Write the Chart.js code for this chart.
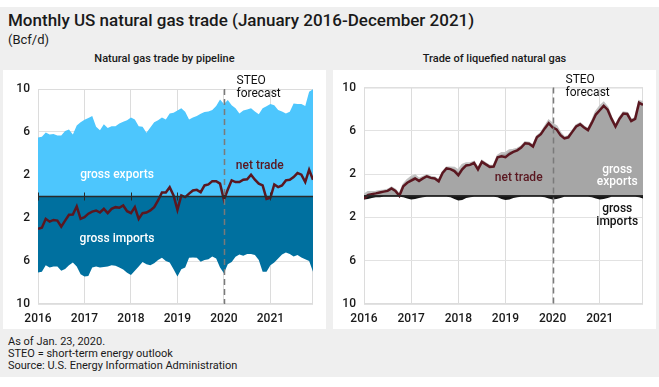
<!DOCTYPE html>
<html>
<head>
<meta charset="utf-8">
<script src="https://cdn.jsdelivr.net/npm/chart.js@4.4.1/dist/chart.umd.min.js"></script>
<style>
body{margin:0;width:659px;height:387px;background:#fff;font-family:Roboto,"Noto Sans",sans-serif;position:relative;overflow:hidden;color:#1a1a1a}
#bg{position:absolute;left:0;top:7px;width:659px;height:370px;background:#efefef}
#title{position:absolute;left:8px;top:10px;font-size:17px;font-weight:500;white-space:nowrap}
#unit{position:absolute;left:8px;top:32px;font-size:13px}
.ptitle{position:absolute;top:52px;width:323px;text-align:center;font-size:11px;font-weight:500}
.panel{position:absolute;top:70px;width:323px;height:259px;background:#fff}
#notes{position:absolute;left:8px;top:336px;font-size:11px;line-height:12px}
</style>
</head>
<body>
<div id="bg"></div>
<div id="title">Monthly US natural gas trade (January 2016-December 2021)</div>
<div id="unit">(Bcf/d)</div>
<div class="ptitle" style="left:3px">Natural gas trade by pipeline</div>
<div class="ptitle" style="left:333px">Trade of liquefied natural gas</div>
<div class="panel" style="left:3px"><canvas id="pipeChart" width="323" height="259"></canvas></div>
<div class="panel" style="left:333px"><canvas id="lngChart" width="323" height="259"></canvas></div>
<div id="notes">As of Jan. 23, 2020.<br>STEO = short-term energy outlook<br>Source: U.S. Energy Information Administration</div>
<script>
// months Jan 2016 .. Dec 2021 as decimal years
const months = [];
for (let yr = 2016; yr <= 2021; yr++) {
    for (let m = 0; m < 12; m++) months.push(yr + m / 12);
}
const yearTicks = [2016, 2017, 2018, 2019, 2020, 2021];
const valueTicks = [-10, -6, -2, 2, 6, 10];
const forecastStart = 2020;

// pipeline, Bcf/d
const pipeExports = [
    5.5, 5.55, 5.95, 5.76, 5.82, 5.67, 5.67, 6.1, 6.23, 5.76, 6.6, 6.9,
    7.15, 7.3, 7.48, 6.48, 6.17, 6.73, 6.38, 6.54, 6.54, 6.8, 6.95, 7.1,
    7.35, 7.17, 6.54, 6.48, 5.92, 6.42, 6.9, 7.1, 7.35, 7.17, 7.73, 7.79,
    8.0, 8.2, 7.88, 7.17, 7.35, 7.48, 7.7, 7.85, 7.9, 8.04, 8.41, 9.03,
    8.6, 8.97, 8.5, 8.2, 7.73, 8.0, 8.1, 8.2, 7.9, 7.66, 8.2, 8.4,
    8.6, 8.5, 8.04, 7.9, 7.73, 7.88, 8.66, 8.6, 8.6, 8.41, 9.75, 9.97
];
const pipeImports = [
    7.07, 7.0, 6.4, 6.6, 6.5, 6.5, 6.9, 6.75, 6.4, 6.15, 6.5, 7.23,
    7.45, 7.4, 6.6, 6.5, 6.6, 6.55, 6.5, 6.4, 6.45, 6.6, 6.8, 7.1,
    7.3, 6.9, 6.5, 6.1, 6.3, 6.4, 6.2, 5.9, 5.7, 6.0, 6.15, 6.76,
    7.45, 6.76, 6.6, 5.7, 5.68, 5.7, 6.07, 5.9, 5.83, 5.58, 5.77, 6.6,
    7.13, 6.3, 6.1, 5.6, 5.4, 5.5, 5.36, 5.36, 5.45, 5.9, 7.0, 7.0,
    6.4, 6.14, 5.77, 5.4, 5.2, 5.36, 5.58, 5.45, 5.67, 5.83, 6.0, 7.0
];
const pipeNet = [
    -3.0, -2.9, -2.08, -2.34, -2.18, -2.24, -2.8, -2.24, -1.7, -1.68, -0.93, -2.08,
    -1.93, -1.6, -1.4, -1.3, -1.49, -1.15, -1.55, -1.15, -0.99, -1.05, -0.84, -1.37,
    -1.55, -0.99, -2.08, -1.55, -1.49, -1.3, -0.99, -0.37, 0.37, 0.37, 0.87, 0.1,
    -1.24, 0.1, -0.06, 0.27, 0.56, 0.62, 0.4, 1.03, 1.12, 1.43, 1.43, 1.2,
    -0.31, 0.65, 1.5, 1.34, 1.34, 1.56, 1.6, 2.03, 1.56, 1.2, 1.03, -0.22,
    -0.12, 1.12, 0.87, 1.03, 1.5, 1.56, 1.8, 2.18, 2.03, 1.34, 2.49, 1.56
];

// liquefied natural gas, Bcf/d
const lngExports = [
    0.1, 0.35, 0.35, 0.37, 0.45, 0.48, 0.55, 0.77, 0.55, 0.1, 1.03, 1.45,
    1.75, 1.89, 1.57, 1.75, 1.9, 1.75, 1.7, 1.44, 2.2, 2.62, 2.61, 2.58,
    2.35, 2.85, 3.0, 3.0, 3.14, 2.53, 3.23, 3.0, 2.77, 2.8, 3.7, 3.95,
    3.96, 4.2, 4.25, 4.35, 4.55, 4.95, 4.9, 4.65, 5.5, 5.79, 6.37, 6.95,
    6.65, 6.43, 5.8, 5.4, 5.5, 6.0, 6.5, 6.7, 6.4, 6.16, 6.9, 7.75,
    8.25, 8.6, 8.15, 7.2, 6.5, 7.2, 7.7, 7.65, 7.0, 7.2, 8.75, 8.65
];
const lngImports = [
    0.35, 0.3, 0.2, 0.15, 0.15, 0.1, 0.1, 0.1, 0.1, 0.1, 0.15, 0.25,
    0.35, 0.3, 0.2, 0.15, 0.1, 0.1, 0.1, 0.1, 0.1, 0.1, 0.15, 0.3,
    0.45, 0.4, 0.2, 0.15, 0.1, 0.1, 0.1, 0.1, 0.1, 0.1, 0.15, 0.3,
    0.4, 0.35, 0.2, 0.15, 0.1, 0.1, 0.1, 0.1, 0.1, 0.1, 0.15, 0.25,
    0.35, 0.3, 0.2, 0.1, 0.1, 0.1, 0.1, 0.1, 0.1, 0.1, 0.15, 0.25,
    0.35, 0.3, 0.2, 0.1, 0.1, 0.1, 0.1, 0.1, 0.1, 0.1, 0.15, 0.25
];
const lngNet = [
    -0.26, 0.05, 0.15, 0.22, 0.3, 0.38, 0.45, 0.67, 0.45, 0.0, 0.88, 1.2,
    1.4, 1.59, 1.37, 1.6, 1.8, 1.65, 1.6, 1.34, 2.1, 2.52, 2.46, 2.28,
    1.9, 2.45, 2.8, 2.85, 3.04, 2.43, 3.13, 2.9, 2.67, 2.7, 3.55, 3.65,
    3.56, 3.85, 4.05, 4.2, 4.45, 4.85, 4.8, 4.55, 5.4, 5.69, 6.22, 6.7,
    6.3, 6.13, 5.6, 5.3, 5.4, 5.9, 6.4, 6.6, 6.3, 6.06, 6.75, 7.5,
    7.9, 8.3, 7.95, 7.1, 6.4, 7.1, 7.6, 7.55, 6.9, 7.1, 8.6, 8.4
];

function points(values, sign){
    return values.map((v, i) => ({x: months[i], y: sign * v}));
}

// frame, zero line, forecast line and text labels
const annotate = {
    id: 'annotate',
    beforeDatasetsDraw(chart){
        const {ctx, chartArea: a} = chart;
        ctx.save();
        ctx.strokeStyle = '#dcdcdc';
        ctx.lineWidth = 1;
        ctx.strokeRect(a.left + 0.5, a.top + 0.5, a.right - a.left - 1, a.bottom - a.top - 1);
        ctx.restore();
    },
    afterDatasetsDraw(chart, args, opts){
        const {ctx, chartArea: a, scales: {x, y}} = chart;
        ctx.save();
        const y0 = y.getPixelForValue(0);
        ctx.strokeStyle = '#2a2a2a';
        ctx.lineWidth = 1.3;
        ctx.beginPath();
        ctx.moveTo(a.left, y0);
        ctx.lineTo(a.right, y0);
        ctx.stroke();
        if (opts.zeroTicks) {
            ctx.lineWidth = 1;
            for (const yr of yearTicks) {
                const px = Math.round(x.getPixelForValue(yr)) + 0.5;
                ctx.beginPath();
                ctx.moveTo(px, y0 - 4);
                ctx.lineTo(px, y0 + 4);
                ctx.stroke();
            }
        }
        // STEO forecast divider
        const fx = Math.round(x.getPixelForValue(forecastStart)) + 0.5;
        ctx.strokeStyle = '#7a7a7a';
        ctx.lineWidth = 1.5;
        ctx.setLineDash([6, 4]);
        ctx.beginPath();
        ctx.moveTo(fx, a.top);
        ctx.lineTo(fx, a.bottom);
        ctx.stroke();
        ctx.setLineDash([]);
        ctx.fillStyle = '#111';
        ctx.font = '12px Roboto';
        ctx.textAlign = 'left';
        ctx.textBaseline = 'alphabetic';
        ctx.fillText('STEO', fx + 12, a.top - 5);
        ctx.fillText('forecast', fx + 12, a.top + 8);
        for (const lab of opts.labels) {
            ctx.fillStyle = lab.color;
            ctx.font = '500 12px Roboto';
            ctx.textAlign = 'center';
            ctx.textBaseline = 'middle';
            ctx.fillText(lab.text, x.getPixelForValue(lab.x), y.getPixelForValue(lab.y));
        }
        ctx.restore();
    }
};

function makeChart(id, datasets, labels, topPad, yWidth, zeroTicks){
    const ctx = document.getElementById(id).getContext('2d');
    return new Chart(ctx, {
        type: 'line',
        data: {datasets: datasets},
        plugins: [annotate],
        options: {
            responsive: false,
            animation: false,
            devicePixelRatio: 1,
            layout: {padding: {top: topPad, right: 13, left: 0, bottom: 0}},
            elements: {point: {radius: 0}, line: {tension: 0}},
            plugins: {
                legend: {display: false},
                tooltip: {enabled: false},
                annotate: {labels: labels, zeroTicks: zeroTicks}
            },
            scales: {
                x: {
                    type: 'linear',
                    min: months[0],
                    max: months[months.length - 1],
                    afterBuildTicks: s => { s.ticks = yearTicks.map(v => ({value: v})); },
                    afterFit: s => { s.height = 25; },
                    grid: {color: '#dcdcdc', drawTicks: false},
                    border: {display: false},
                    ticks: {padding: 8, color: '#1a1a1a', font: {family: 'Roboto', size: 12, weight: '500'}, callback: v => String(v)}
                },
                y: {
                    min: -10,
                    max: 10,
                    afterBuildTicks: s => { s.ticks = valueTicks.map(v => ({value: v})); },
                    afterFit: s => { s.width = yWidth; },
                    grid: {color: '#e2e2e2', drawTicks: false},
                    border: {display: false},
                    ticks: {padding: 8, color: '#1a1a1a', font: {family: 'Roboto', size: 12, weight: '500'}, callback: v => String(Math.abs(v))}
                }
            }
        }
    });
}

document.addEventListener('DOMContentLoaded', function () {
    makeChart('pipeChart', [
        {label: 'net trade', data: points(pipeNet, 1), borderColor: '#5a1720', borderWidth: 2.5, fill: false, order: 0},
        {label: 'gross exports', data: points(pipeExports, 1), borderColor: '#4dc6fd', backgroundColor: '#4dc6fd', borderWidth: 0, fill: 'origin', order: 1},
        {label: 'gross imports', data: points(pipeImports, -1), borderColor: '#00709f', backgroundColor: '#00709f', borderWidth: 0, fill: 'origin', order: 2}
    ], [
        {text: 'gross exports', x: 2017.7, y: 2.0, color: '#ffffff'},
        {text: 'net trade', x: 2020.77, y: 2.85, color: '#5a1720'},
        {text: 'gross imports', x: 2017.7, y: -3.95, color: '#ffffff'}
    ], 19, 35, true);

    makeChart('lngChart', [
        {label: 'net trade', data: points(lngNet, 1), borderColor: '#5a1720', borderWidth: 2.5, fill: false, order: 0},
        {label: 'gross exports', data: points(lngExports, 1), borderColor: '#c2c2c2', backgroundColor: '#a6a6a6', borderWidth: 2, fill: 'origin', order: 1},
        {label: 'gross imports', data: points(lngImports, -1), borderColor: '#151515', backgroundColor: '#151515', borderWidth: 0, fill: 'origin', order: 2}
    ], [
        {text: 'net trade', x: 2019.28, y: 1.62, color: '#5a1720'},
        {text: 'gross', x: 2021.37, y: 2.36, color: '#ffffff'},
        {text: 'exports', x: 2021.37, y: 1.25, color: '#ffffff'},
        {text: 'gross', x: 2021.37, y: -1.25, color: '#111111'},
        {text: 'imports', x: 2021.37, y: -2.45, color: '#111111'}
    ], 17.5, 31, false);
});
</script>
</body>
</html>
